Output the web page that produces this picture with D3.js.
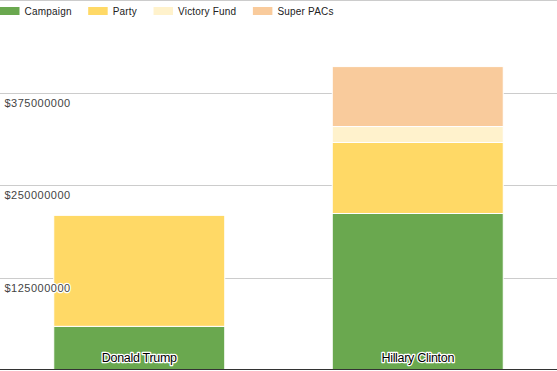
<!DOCTYPE html>
<html>
<head>
<meta charset="utf-8">
<script src="https://cdn.jsdelivr.net/npm/d3@7"></script>
<style>
  body { margin: 0; background: #fff; }
  svg { display: block; font-family: "Liberation Sans", Arial, sans-serif; }
</style>
</head>
<body>
<div id="chart"></div>
<script>
// data (US dollars)
var candidates = ['Donald Trump', 'Hillary Clinton'];
var sources = ['Campaign', 'Party', 'Victory Fund', 'Super PACs'];
var campaign = [59000000, 211500000];
var party = [150000000, 96000000];
var victoryFund = [0, 21500000];
var superPacs = [0, 81000000];
var tickValues = [125000000, 250000000, 375000000, 500000000];

var colors = ['#6aa84f', '#ffd966', '#fff2cc', '#f9cb9c'];

var width = 557,
    height = 371;

var svg = d3.select('#chart').append('svg')
    .attr('width', width)
    .attr('height', height);

// rows for the stack
var table = candidates.map(function(c, i) {
    return {
        name: c,
        'Campaign': campaign[i],
        'Party': party[i],
        'Victory Fund': victoryFund[i],
        'Super PACs': superPacs[i]
    };
});

var series = d3.stack().keys(sources)(table);

var x = d3.scaleBand()
    .domain(candidates)
    .range([0, width])
    .paddingInner(0.386)
    .paddingOuter(0.193);

var y = d3.scaleLinear()
    .domain([0, 500000000])
    .range([370, 0]);

var color = d3.scaleOrdinal().domain(sources).range(colors);

// gridlines
svg.append('g')
    .selectAll('line')
    .data(tickValues)
    .enter().append('line')
    .attr('x1', 0)
    .attr('x2', width)
    .attr('y1', function(d) { return Math.round(y(d)) + 0.5; })
    .attr('y2', function(d) { return Math.round(y(d)) + 0.5; })
    .attr('stroke', '#cccccc')
    .attr('stroke-width', 1);

// bars
var layer = svg.append('g')
    .selectAll('g')
    .data(series)
    .enter().append('g')
    .attr('fill', function(d) { return color(d.key); });

layer.selectAll('rect')
    .data(function(d) { return d.filter(function(s) { return s[1] - s[0] > 0; }); })
    .enter().append('rect')
    .attr('x', function(d) { return x(d.data.name); })
    .attr('y', function(d) { return y(d[1]); })
    .attr('width', x.bandwidth())
    .attr('height', function(d) { return y(d[0]) - y(d[1]); })
    .attr('stroke', '#fff')
    .attr('stroke-width', 1);

// tick labels sit just under their line, over the bars
svg.append('g')
    .selectAll('text')
    .data(tickValues.filter(function(d) { return d < 500000000; }))
    .enter().append('text')
    .attr('x', 4.5)
    .attr('y', function(d) { return y(d) + 14; })
    .attr('font-size', 11)
    .attr('letter-spacing', '0.5px')
    .attr('fill', '#444')
    .attr('stroke', '#fff')
    .attr('stroke-width', 2.5)
    .attr('stroke-linejoin', 'round')
    .attr('paint-order', 'stroke')
    .text(function(d) { return '$' + d; });

// category labels inside the bars
svg.append('g')
    .selectAll('text')
    .data(candidates)
    .enter().append('text')
    .attr('x', function(d) { return x(d) + x.bandwidth() / 2; })
    .attr('y', 361.5)
    .attr('text-anchor', 'middle')
    .attr('font-size', 12.5)
    .attr('letter-spacing', '-0.3px')
    .attr('fill', '#000')
    .attr('stroke', '#fff')
    .attr('stroke-width', 2.5)
    .attr('stroke-linejoin', 'round')
    .attr('paint-order', 'stroke')
    .text(function(d) { return d; });

// baseline
svg.append('line')
    .attr('x1', 0)
    .attr('x2', width)
    .attr('y1', 369.5)
    .attr('y2', 369.5)
    .attr('stroke', '#333')
    .attr('stroke-width', 1);

// legend
var legend = svg.append('g').attr('class', 'legend');
var lx = 0;
sources.forEach(function(s) {
    var item = legend.append('g').attr('transform', 'translate(' + lx + ',0)');
    item.append('rect')
        .attr('x', 0)
        .attr('y', 7)
        .attr('width', 19.5)
        .attr('height', 8)
        .attr('fill', color(s));
    var t = item.append('text')
        .attr('x', 24.5)
        .attr('y', 15)
        .attr('font-size', 10)
        .attr('letter-spacing', '0.2px')
        .attr('fill', '#222')
        .text(s);
    lx += 24.5 + t.node().getComputedTextLength() + 16.5;
});
</script>
</body>
</html>
